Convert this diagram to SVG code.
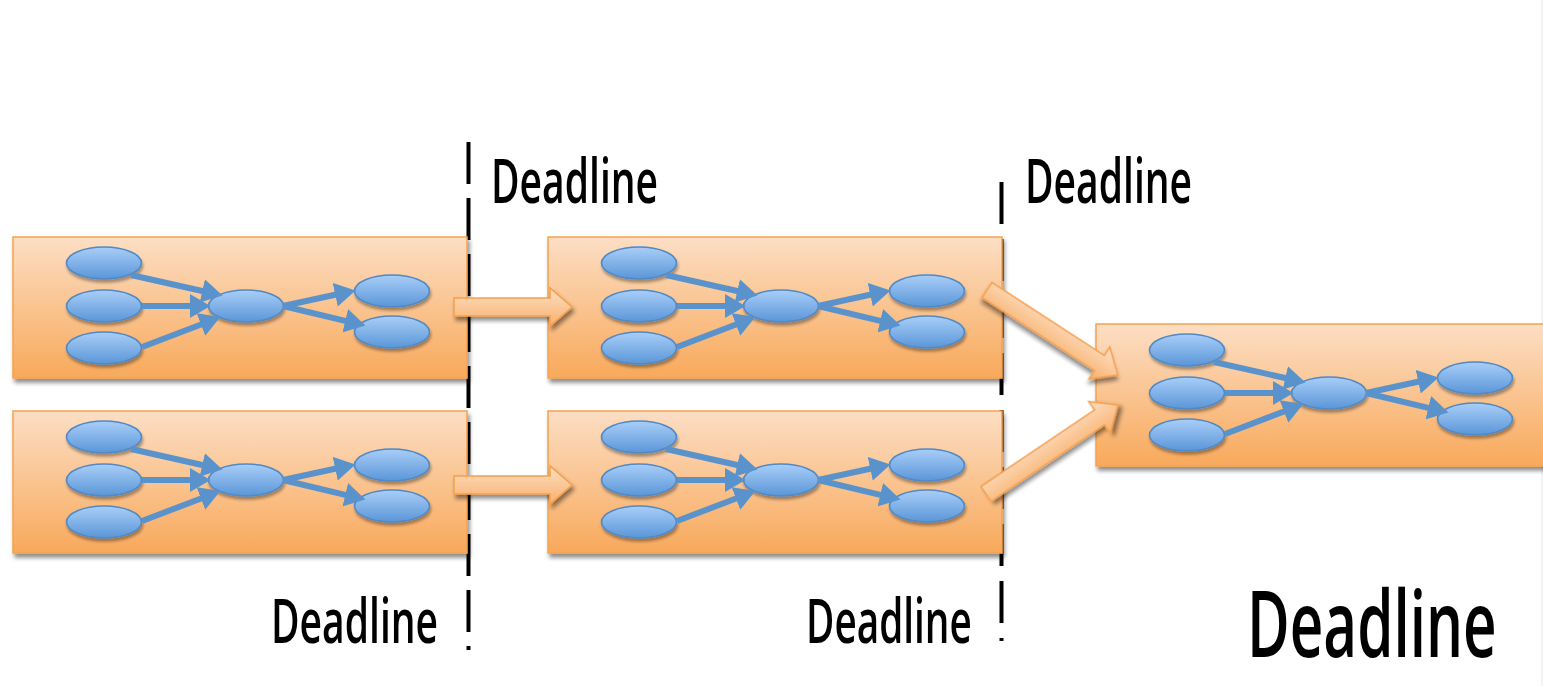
<svg xmlns="http://www.w3.org/2000/svg" xmlns:xlink="http://www.w3.org/1999/xlink" width="1543" height="686" viewBox="0 0 1543 686">
  <style>
    .stage { fill: url(#stageFill); stroke: #F6A24F; stroke-width: 1.5; filter: url(#shadow); }
    .task { fill: url(#taskFill); stroke: #5189C4; stroke-width: 1.6; filter: url(#softShadow); }
    .dep { fill: none; stroke: #5A93CB; stroke-width: 6; marker-end: url(#depHead); }
    .handoff { fill: url(#handoffFill); stroke: #F5A04D; stroke-width: 1.5; filter: url(#shadow); }
    .deadline { fill: none; stroke: #000; stroke-width: 4; }
    .label { font-family: "Open Sans", "Liberation Sans", sans-serif; font-weight: 600; fill: #000; }
  </style>
  <defs>
    <linearGradient id="stageFill" x1="0" y1="0" x2="0" y2="1">
      <stop offset="0" stop-color="#FCDEC4"/>
      <stop offset="1" stop-color="#F8A95B"/>
    </linearGradient>
    <linearGradient id="taskFill" x1="0" y1="0" x2="0" y2="1">
      <stop offset="0" stop-color="#A9CEF8"/>
      <stop offset="1" stop-color="#5A96D8"/>
    </linearGradient>
    <linearGradient id="handoffFill" x1="0" y1="0" x2="0" y2="1">
      <stop offset="0" stop-color="#FDDFC4"/>
      <stop offset="1" stop-color="#F8B06C"/>
    </linearGradient>
    <filter id="shadow" x="-10%" y="-20%" width="125%" height="150%">
      <feGaussianBlur in="SourceAlpha" stdDeviation="2.2"/>
      <feOffset dx="2" dy="3.5" result="b"/>
      <feComponentTransfer><feFuncA type="linear" slope="0.45"/></feComponentTransfer>
      <feMerge><feMergeNode/><feMergeNode in="SourceGraphic"/></feMerge>
    </filter>
    <filter id="softShadow" x="-20%" y="-30%" width="140%" height="170%">
      <feGaussianBlur in="SourceAlpha" stdDeviation="1.5"/>
      <feOffset dx="1" dy="2.5" result="b"/>
      <feComponentTransfer><feFuncA type="linear" slope="0.35"/></feComponentTransfer>
      <feMerge><feMergeNode/><feMergeNode in="SourceGraphic"/></feMerge>
    </filter>
    <marker id="depHead" markerUnits="userSpaceOnUse" markerWidth="22" markerHeight="24" refX="2" refY="11" orient="auto" viewBox="0 0 20 22">
      <path d="M0,0 L19,11 L0,22 z" fill="#5A93CB"/>
    </marker>

    <!-- small task graph drawn inside every stage -->
    <g id="taskGraph">
      <ellipse class="task" cx="91" cy="26" rx="37.5" ry="16"/>
      <ellipse class="task" cx="91" cy="69" rx="37.5" ry="16"/>
      <ellipse class="task" cx="91" cy="111" rx="37.5" ry="16"/>
      <ellipse class="task" cx="233" cy="69" rx="37.5" ry="16"/>
      <ellipse class="task" cx="379" cy="54" rx="37.5" ry="16"/>
      <ellipse class="task" cx="379" cy="95" rx="37.5" ry="16"/>
      <path class="dep" d="M118,38 L191.4,54.5"/>
      <path class="dep" d="M129,69 L179,69"/>
      <path class="dep" d="M129,110 L190,86.7"/>
      <path class="dep" d="M270,69 L324.4,57.3"/>
      <path class="dep" d="M270,69 L334.4,84.3"/>
    </g>
  </defs>

  <rect width="1543" height="686" fill="#fff"/>
  <rect x="1541" y="0" width="2" height="686" fill="#f3f3f3"/>

  <!-- deadline markers -->
  <g id="deadlines">
    <line class="deadline" x1="468.5" y1="142" x2="468.5" y2="650" stroke-dasharray="42 14"/>
    <line class="deadline" x1="1001.5" y1="182" x2="1001.5" y2="641" stroke-dasharray="42 15"/>
  </g>

  <!-- stages -->
  <g id="stage-a1" transform="translate(13,237)">
    <rect class="stage" width="454" height="141"/>
    <use xlink:href="#taskGraph"/>
  </g>
  <g id="stage-b1" transform="translate(13,411)">
    <rect class="stage" width="454" height="142"/>
    <use xlink:href="#taskGraph"/>
  </g>
  <g id="stage-a2" transform="translate(548,237)">
    <rect class="stage" width="454" height="141"/>
    <use xlink:href="#taskGraph"/>
  </g>
  <g id="stage-b2" transform="translate(548,411)">
    <rect class="stage" width="454" height="142"/>
    <use xlink:href="#taskGraph"/>
  </g>
  <g id="stage-merge" transform="translate(1096,324)">
    <rect class="stage" width="460" height="142"/>
    <use xlink:href="#taskGraph"/>
  </g>

  <!-- hand-off arrows between stages -->
  <g id="connectors">
    <path class="handoff" transform="translate(454,307)" d="M0,-9 L96,-9 L96,-19 L118,0 L96,19 L96,9 L0,9 z"/>
    <path class="handoff" transform="translate(454,485)" d="M0,-9 L96,-9 L96,-19 L118,0 L96,19 L96,9 L0,9 z"/>
    <path class="handoff" transform="translate(987,290) rotate(33)" d="M0,-9 L134,-9 L134,-19 L156,0 L134,19 L134,9 L0,9 z"/>
    <path class="handoff" transform="translate(986,494) rotate(-34)" d="M0,-9 L137,-9 L137,-19 L159,0 L137,19 L137,9 L0,9 z"/>
  </g>

  <!-- labels (condensed by a horizontal scale) -->
  <g id="labels">
    <text class="label" transform="translate(491,203) scale(0.64,1)" font-size="62" textLength="261" lengthAdjust="spacingAndGlyphs">Deadline</text>
    <text class="label" transform="translate(1025,203) scale(0.64,1)" font-size="62" textLength="261" lengthAdjust="spacingAndGlyphs">Deadline</text>
    <text class="label" transform="translate(271,643) scale(0.64,1)" font-size="62" textLength="261" lengthAdjust="spacingAndGlyphs">Deadline</text>
    <text class="label" transform="translate(806,643) scale(0.64,1)" font-size="62" textLength="259" lengthAdjust="spacingAndGlyphs">Deadline</text>
    <text class="label" transform="translate(1247,657) scale(0.64,1)" font-size="92" textLength="390" lengthAdjust="spacingAndGlyphs">Deadline</text>
  </g>
</svg>
